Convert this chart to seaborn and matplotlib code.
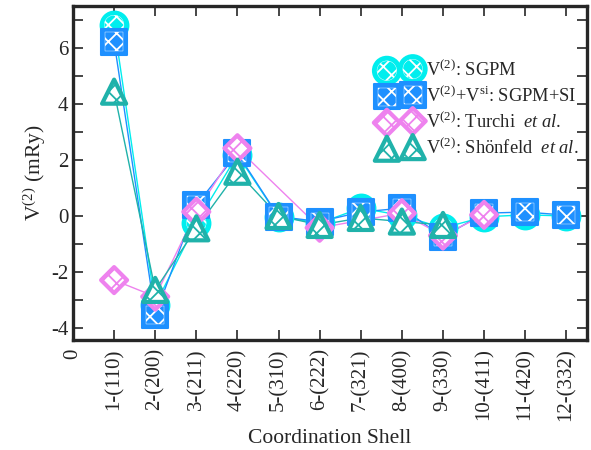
import numpy as np
import pandas as pd
import seaborn as sns
import matplotlib
matplotlib.use("Agg")
import matplotlib.pyplot as plt
from matplotlib.legend_handler import HandlerTuple

shells = ["1-(110)", "2-(200)", "3-(211)", "4-(220)", "5-(310)", "6-(222)",
          "7-(321)", "8-(400)", "9-(330)", "10-(411)", "11-(420)", "12-(332)"]
sgpm = [6.82, -3.18, -0.25, 2.18, -0.03, -0.25, 0.28, 0.02, -0.43, -0.03, 0.04, 0.0]
sgpm_si = [6.23, -3.54, 0.39, 2.24, -0.02, -0.2, 0.14, 0.28, -0.75, 0.1, 0.14, 0.03]
turchi = [-2.29, -2.88, 0.15, 2.42, None, -0.42, None, 0.1, -0.7, 0.04, None, None]
schon = [4.44, -2.64, -0.44, 1.58, 0.0, -0.32, -0.07, -0.2, -0.32, None, None, None]

labels = [r"V$^{(2)}$: SGPM",
          r"V$^{(2)}$+V$^{\mathrm{si}}$: SGPM+SI",
          r"V$^{(2)}$: Turchi  $\mathit{et\ al.}$",
          r"V$^{(2)}$: Shönfeld  $\mathit{et\ al.}$"]

sns.set_style("ticks")
plt.rcParams["font.family"] = ["Liberation Serif", "DejaVu Serif"]
plt.rcParams["mathtext.fontset"] = "custom"
plt.rcParams["mathtext.rm"] = "Liberation Serif"
plt.rcParams["mathtext.it"] = "Liberation Serif:italic"
plt.rcParams["axes.unicode_minus"] = False
plt.rcParams["hatch.linewidth"] = 1.3

fig = plt.figure(figsize=(5.91, 4.5), dpi=100)
ax = fig.add_axes([0.1235, 0.2444, 0.8695, 0.7423])

x = np.arange(1, 13)
series = [
    (sgpm, "#00EEEE", "o", 400, "fill"),
    (sgpm_si, "#1E90FF", "s", 340, "fill"),
    (turchi, "#EE82EE", "D", 175, "open"),
    (schon, "#20B2AA", "^", 300, "open"),
]

handles = []
for (vals, col, mk, s, kind), lab in zip(series, labels):
    df = pd.DataFrame({"x": x, "y": vals}).dropna()
    sns.lineplot(data=df, x="x", y="y", color=col, lw=1.0, ax=ax, zorder=2)
    if kind == "fill":
        h1 = ax.scatter(df["x"], df["y"], s=s, marker=mk, facecolor=col,
                        edgecolor=col, linewidths=1.5, zorder=3)
        h2 = ax.scatter(df["x"], df["y"], s=s * 0.5, marker=mk, facecolor="none",
                        edgecolor="white", linewidths=0.3, hatch="xx", zorder=3)
        handles.append((h1, h2))
    else:
        h1 = ax.scatter(df["x"], df["y"], s=s, marker=mk, facecolor="white",
                        edgecolor=col, linewidths=3, hatch="xx", zorder=3)
        handles.append((h1,))

ax.set_xlim(0, 12.5)
ax.set_ylim(-4.43, 7.5)
ax.set_xticks(np.arange(0, 13))
ax.set_xticklabels(["0"] + shells, rotation=90, fontsize=15)
ax.set_yticks([-4, -2, 0, 2, 4, 6])
ax.set_yticks(np.arange(-3, 8, 2), minor=True)
ax.tick_params(axis="both", which="both", direction="in", top=True, right=True,
               length=7, width=1.2, labelsize=15)
ax.tick_params(axis="x", which="major", pad=6)
for sp in ax.spines.values():
    sp.set_linewidth(2.4)
ax.set_xlabel("Coordination Shell", fontsize=15.5, labelpad=6)
ax.set_ylabel(r"V$^{(2)}$ (mRy)", fontsize=15.5, labelpad=2)

leg = ax.legend(handles, labels, handler_map={tuple: HandlerTuple(ndivide=1, pad=0)},
                scatterpoints=2, loc="upper left", bbox_to_anchor=(0.6, 0.84),
                frameon=False, fontsize=13.3, handlelength=2.0, handletextpad=0.4,
                labelspacing=0.32, borderpad=0.0, borderaxespad=0.0)

fig.savefig("out.png", dpi=100)
